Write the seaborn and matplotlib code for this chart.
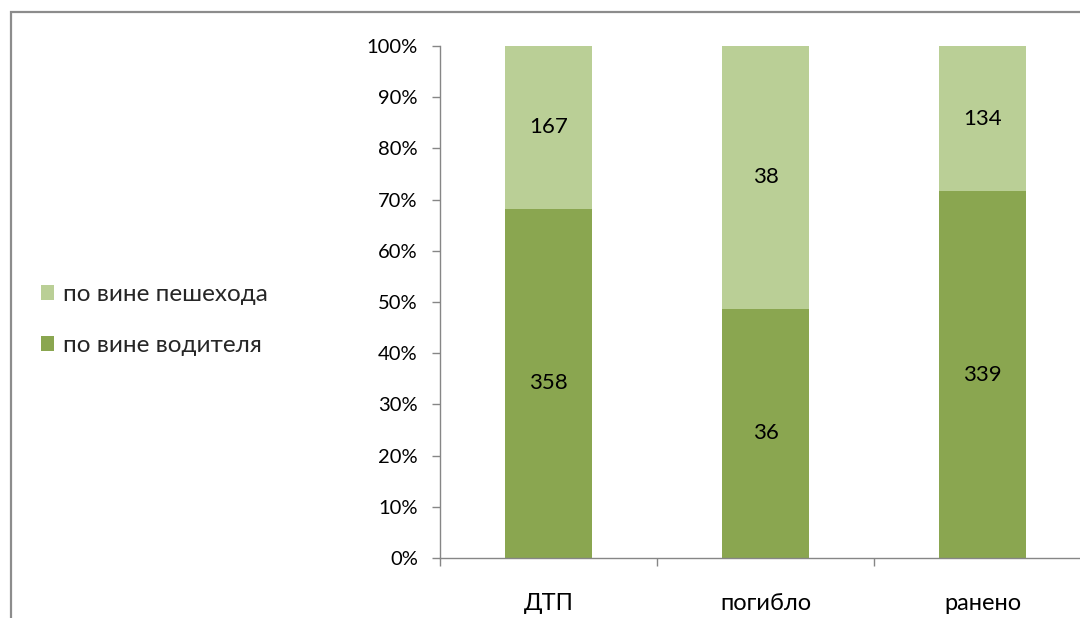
import matplotlib
matplotlib.use("Agg")
import matplotlib.pyplot as plt
import seaborn as sns
import pandas as pd
import numpy as np
from matplotlib.patches import Rectangle, Patch
from matplotlib.ticker import FixedLocator

categories = ["ДТП", "погибло", "ранено"]
driver = [358, 36, 339]
pedestrian = [167, 38, 134]
label_driver = "по вине водителя"
label_ped = "по вине пешехода"

sns.set_theme(style="white")
plt.rcParams['font.family'] = ['Lato', 'DejaVu Sans']

total = np.array(driver) + np.array(pedestrian)
drv_pct = np.array(driver) / total * 100
df = pd.DataFrame({"cat": categories, "total": [100.0] * len(categories), "drv": drv_pct})

c_dark = "#8AA650"
c_light = "#BACF96"
grey = "#868686"

fig = plt.figure(figsize=(10.8, 6.18), dpi=100)
ax = fig.add_axes([440/1080, 1 - 558/618, (1091 - 440)/1080, (558 - 46)/618])

sns.barplot(data=df, x="cat", y="total", color=c_light, width=0.4, ax=ax, saturation=1,
            edgecolor="none", linewidth=0)
sns.barplot(data=df, x="cat", y="drv", color=c_dark, width=0.4, ax=ax, saturation=1,
            edgecolor="none", linewidth=0)

for i in range(len(categories)):
    ax.text(i, drv_pct[i] / 2, str(driver[i]), ha="center", va="center", fontsize=16, color="black")
    ax.text(i, (drv_pct[i] + 100) / 2, str(pedestrian[i]), ha="center", va="center", fontsize=16, color="black")

ax.set_xlim(-0.5, 2.5)
ax.set_ylim(0, 100)
ax.set_yticks(np.arange(0, 101, 10))
ax.set_yticklabels([f"{v}%" for v in range(0, 101, 10)], fontsize=14.5, color="black")
ax.set_xlabel("")
ax.set_ylabel("")
ax.set_xticks(range(len(categories)))
ax.set_xticklabels(categories, fontsize=17, color="black")
ax.xaxis.set_minor_locator(FixedLocator([-0.5, 0.5, 1.5, 2.5]))
ax.tick_params(axis="x", which="major", length=0, pad=25)
ax.tick_params(axis="x", which="minor", length=6, color=grey, width=1, direction="out", bottom=True)
ax.tick_params(axis="y", which="major", length=6, color=grey, width=1, direction="out", left=True, pad=10)
for s in ["top", "right"]:
    ax.spines[s].set_visible(False)
for s in ["left", "bottom"]:
    ax.spines[s].set_color(grey)
    ax.spines[s].set_linewidth(1)

handles = [Patch(facecolor=c_light, edgecolor="none", label=label_ped),
           Patch(facecolor=c_dark, edgecolor="none", label=label_driver)]
fig.legend(handles=handles, loc="center left", bbox_to_anchor=(41/1080, 1 - 320/618),
           frameon=False, fontsize=17.5, handlelength=0.55, handleheight=0.55,
           handletextpad=0.35, labelspacing=1.25, borderaxespad=0, borderpad=0)

fig.add_artist(Rectangle((11/1080, -0.2), 1.5, 1 - 12/618 + 0.2, transform=fig.transFigure,
                         fill=False, edgecolor="#8c8c8c", linewidth=1.6, clip_on=False))

fig.savefig("out.png", dpi=100)
